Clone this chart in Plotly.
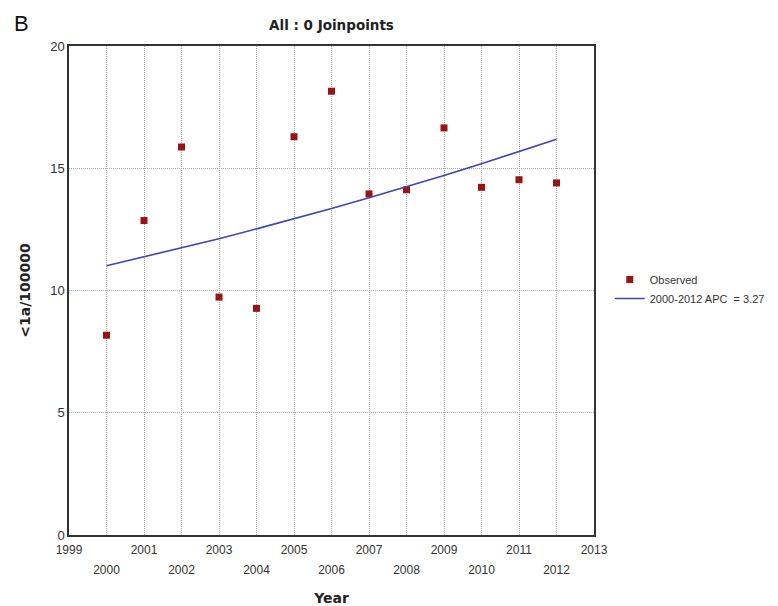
import plotly.graph_objects as go

years = [2000, 2001, 2002, 2003, 2004, 2005, 2006, 2007, 2008, 2009, 2010, 2011, 2012]
observed = [8.17, 12.86, 15.87, 9.73, 9.27, 16.29, 18.15, 13.95, 14.12, 16.65, 14.22, 14.53, 14.40]
fitted = [11.01, 11.37, 11.74, 12.12, 12.52, 12.93, 13.35, 13.79, 14.24, 14.70, 15.18, 15.68, 16.19]
tick_years = list(range(1999, 2014))
odd_labels = [str(y) if y % 2 == 1 else "" for y in tick_years]
even_years = [y for y in tick_years if y % 2 == 0]
even_labels = [str(y) for y in even_years]
y_ticks = [0, 5, 10, 15, 20]

fig = go.Figure()
fig.add_trace(go.Scatter(
    x=years, y=observed, mode="markers", name="Observed",
    marker=dict(symbol="square", size=7, color="#9b1414"),
))
fig.add_trace(go.Scatter(
    x=years, y=fitted, mode="lines", name="2000-2012 APC  = 3.27",
    line=dict(color="#3c46b4", width=1.6), xaxis="x2",
))

fig.update_layout(
    width=778, height=606,
    margin=dict(l=61, r=192, t=38, b=79, autoexpand=False),
    paper_bgcolor="white", plot_bgcolor="white",
    title=dict(text="<b>All : 0 Joinpoints</b>", x=323.5 / 778, xanchor="center",
               y=1 - 17 / 606, yanchor="middle", yref="container",
               font=dict(family="DejaVu Sans", size=13.5, color="#222")),
    showlegend=True,
    legend=dict(x=1.030, xanchor="left", y=0.503, yanchor="middle",
                font=dict(family="Liberation Sans", size=11, color="#333"),
                bgcolor="rgba(0,0,0,0)", tracegroupgap=0, itemwidth=30),
    annotations=[dict(text="B", xref="paper", yref="paper", x=-0.108, y=1.075,
                      xanchor="left", yanchor="top", showarrow=False,
                      font=dict(family="Liberation Sans", size=22, color="#111"))],
    xaxis=dict(
        range=[1999, 2013], tickvals=tick_years, ticktext=odd_labels,
        tickfont=dict(family="Liberation Sans", size=12, color="#333"),
        showgrid=True, gridcolor="#a8a8a8", griddash="1px,1px", gridwidth=1,
        showline=True, linecolor="#333", linewidth=1.5, mirror=True,
        ticks="", zeroline=False, automargin=False, ticklabelstandoff=3,
    ),
    xaxis2=dict(
        range=[1999, 2013], tickvals=even_years, ticktext=even_labels,
        overlaying="x", side="bottom", anchor="y",
        tickfont=dict(family="Liberation Sans", size=12, color="#333"),
        showgrid=False, showline=False, ticks="", zeroline=False,
        automargin=False, ticklabelstandoff=26,
        title=dict(text="<b>Year</b>", font=dict(family="DejaVu Sans", size=14, color="#222"), standoff=17),
    ),
    yaxis=dict(
        range=[0, 20], tickvals=y_ticks,
        tickfont=dict(family="Liberation Sans", size=13, color="#333"),
        showgrid=True, gridcolor="#a8a8a8", griddash="1px,1px", gridwidth=1,
        showline=True, linecolor="#333", linewidth=1.5, mirror=True,
        ticks="", zeroline=False, automargin=False,
        title=dict(text="<b>&lt;1a/100000</b>", font=dict(family="DejaVu Sans", size=14, color="#222"), standoff=16),
    ),
)

fig.write_html("out.html")
